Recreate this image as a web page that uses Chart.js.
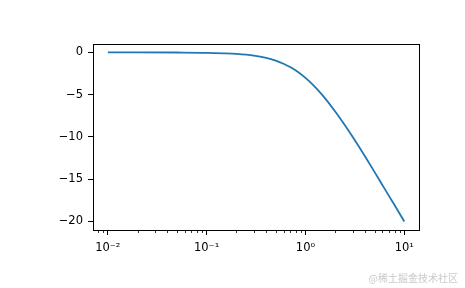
<!DOCTYPE html>
<html>
<head>
<meta charset="utf-8">
<script src="https://cdn.jsdelivr.net/npm/chart.js@4/dist/chart.umd.min.js"></script>
<style>
  body { margin: 0; background: #fff; }
  #wrap { width: 465px; height: 288px; }
</style>
</head>
<body>
<div id="wrap"><canvas id="myChart" width="465" height="288"></canvas></div>
<script>
// frequency (log axis) and magnitude in dB
let freq = [0.01, 0.02, 0.05, 0.1, 0.15, 0.2, 0.3, 0.4, 0.5, 0.6, 0.7, 0.8,
            1, 1.2, 1.5, 2, 2.5, 3, 4, 5, 6, 7, 8, 10];
let gain = [0, 0, -0.01, -0.04, -0.1, -0.17, -0.37, -0.64, -0.97, -1.34, -1.73, -2.15,
            -3.01, -3.87, -5.12, -6.99, -8.6, -10.0, -12.3, -14.15, -15.7, -17.0, -18.1, -20.04];

let xTicks = [0.01, 0.1, 1, 10];
let xTickLabels = ['10\u207B\u00B2', '10\u207B\u00B9', '10\u2070', '10\u00B9'];
let yTicks = [-20, -15, -10, -5, 0];
let yTickLabels = ['\u221220', '\u221215', '\u221210', '\u22125', '0'];
let watermark = '@稀土掘金技术社区';

let tickFont = { family: 'DejaVu Sans', size: 11.5 };

// box round the plot, minor ticks on the log axis, watermark
let extras = {
    id: 'extras',
    afterDraw(chart) {
        let c = chart.ctx;
        let a = chart.chartArea;
        c.save();
        c.strokeStyle = '#000';
        c.lineWidth = 1;
        c.strokeRect(Math.round(a.left) + 0.5, Math.round(a.top) + 0.5,
                     Math.round(a.right - a.left), Math.round(a.bottom - a.top));
        let xs = chart.scales.x;
        c.lineWidth = 0.8;
        for (let e = -3; e <= 1; e++) {
            for (let m = 2; m <= 9; m++) {
                let v = m * Math.pow(10, e);
                if (v < xs.min || v > xs.max) continue;
                let px = Math.round(xs.getPixelForValue(v)) + 0.5;
                c.beginPath();
                c.moveTo(px, a.bottom);
                c.lineTo(px, a.bottom + 3);
                c.stroke();
            }
        }
        c.fillStyle = '#c9c9c9';
        c.font = '10px "Noto Sans CJK SC"';
        c.textAlign = 'right';
        c.textBaseline = 'middle';
        c.fillText(watermark, 458, 278);
        c.restore();
    }
};

let ctx = document.getElementById('myChart').getContext('2d');
let myChart = new Chart(ctx, {
    type: 'line',
    data: {
        datasets: [{
            data: freq.map((f, i) => ({ x: f, y: gain[i] })),
            borderColor: '#1f77b4',
            borderWidth: 1.8,
            pointRadius: 0,
            cubicInterpolationMode: 'monotone',
            fill: false
        }]
    },
    options: {
        responsive: false,
        animation: false,
        layout: { padding: { top: 44, right: 46, left: 0, bottom: 0 } },
        plugins: { legend: { display: false }, tooltip: { enabled: false } },
        scales: {
            x: {
                type: 'logarithmic',
                min: 0.00708,
                max: 14.1,
                afterBuildTicks: s => { s.ticks = xTicks.map(v => ({ value: v })); },
                afterFit: s => { s.height = 58; },
                grid: { drawOnChartArea: false, tickLength: 5, color: '#000', tickColor: '#000' },
                border: { display: true, color: '#000' },
                ticks: {
                    color: '#000', font: tickFont, padding: 6, maxRotation: 0, autoSkip: false,
                    callback: (v) => xTickLabels[xTicks.indexOf(v)]
                }
            },
            y: {
                type: 'linear',
                min: -21.04,
                max: 1.0,
                afterBuildTicks: s => { s.ticks = yTicks.map(v => ({ value: v })); },
                afterFit: s => { s.width = 93; },
                grid: { drawOnChartArea: false, tickLength: 5, color: '#000', tickColor: '#000' },
                border: { display: true, color: '#000' },
                ticks: {
                    color: '#000', font: tickFont, padding: 5, autoSkip: false,
                    callback: (v) => yTickLabels[yTicks.indexOf(v)]
                }
            }
        }
    },
    plugins: [extras]
});
</script>
</body>
</html>
